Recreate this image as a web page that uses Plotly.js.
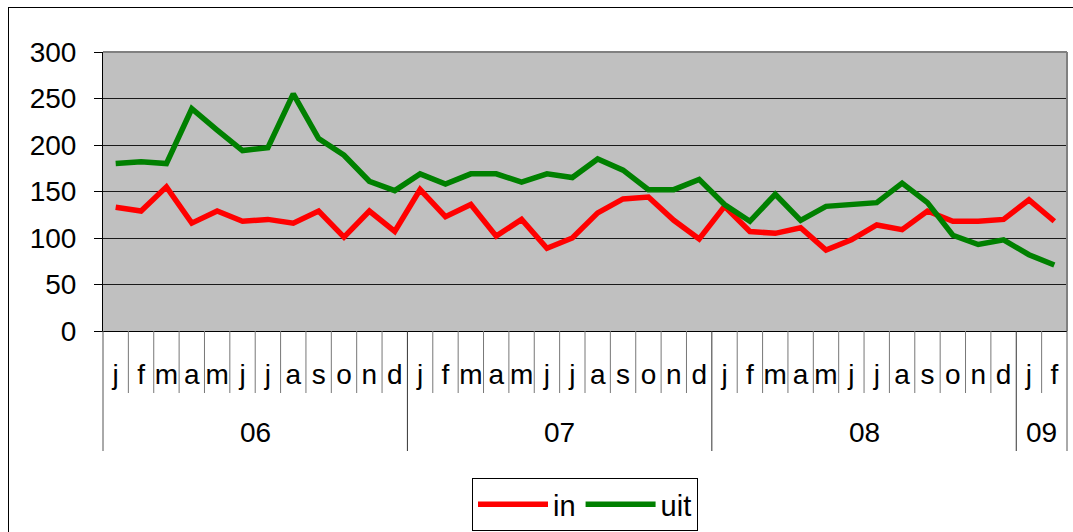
<!DOCTYPE html>
<html>
<head>
<meta charset="utf-8">
<script src="https://cdn.plot.ly/plotly-3.0.1.min.js"></script>
<style>
  html, body { margin: 0; padding: 0; background: #fff; }
  #wrap { position: relative; width: 1073px; height: 532px; overflow: hidden; }
  #chart { position: absolute; left: 0; top: 0; width: 1073px; height: 532px; }
  #frame { position: absolute; left: 8px; top: 7px; width: 1080px; height: 560px; border: 1px solid #000; pointer-events: none; }
</style>
</head>
<body>
<div id="wrap">
  <div id="chart"></div>
  <div id="frame"></div>
</div>
<script>
// Month labels (Jan 2006 .. Feb 2009)
var months = ['j','f','m','a','m','j','j','a','s','o','n','d',
              'j','f','m','a','m','j','j','a','s','o','n','d',
              'j','f','m','a','m','j','j','a','s','o','n','d',
              'j','f'];
var years = ['06','07','08','09'];
var yearCounts = [12, 12, 12, 2];

// Series values
var inVals  = [133,129,155,116,129,118,120,116,129,101,129,107,
               152,123,136,102,120,89,100,127,142,144,119,99,
               134,107,105,111,87,98,114,109,129,118,118,120,
               141,118];
var uitVals = [180,182,180,239,216,194,197,255,207,189,161,151,
               169,158,169,169,160,169,165,185,173,152,152,163,
               136,118,147,119,134,136,138,159,138,103,93,98,
               82,71];

var idx = months.map(function(_, i){ return i; });

var plotTop = 52, plotBottom = 331;
var plotH = plotBottom - plotTop;
var monthDivDepth = -62 / plotH;
var yearDivDepth = -120 / plotH;
var yearLabelY = -101 / plotH;

var labelFont = 'Liberation Sans Narrow, Arial Narrow, Liberation Sans, Arial, sans-serif';
var mainFont = 'Liberation Sans, Arial, sans-serif';

var traces = [
  {x: idx, y: inVals, name: 'in', type: 'scatter', mode: 'lines',
   line: {color: '#FF0000', width: 5.5}},
  {x: idx, y: uitVals, name: 'uit', type: 'scatter', mode: 'lines',
   line: {color: '#008000', width: 5.5}}
];

var shapes = [];
// plot area border (top, right)
shapes.push({type:'line', xref:'paper', yref:'paper', x0:0, x1:1, y0:1, y1:1, line:{color:'#808080', width:2}, layer:'above'});
shapes.push({type:'line', xref:'paper', yref:'paper', x0:1, x1:1, y0:0, y1:1, line:{color:'#808080', width:2}, layer:'above'});
// edges of category axis
shapes.push({type:'line', xref:'paper', yref:'paper', x0:0, x1:0, y0:0, y1:yearDivDepth, line:{color:'#555', width:1}});
shapes.push({type:'line', xref:'paper', yref:'paper', x0:1, x1:1, y0:0, y1:yearDivDepth, line:{color:'#555', width:1}});
// month and year boundaries
var yearStarts = [];
var acc = 0;
yearCounts.forEach(function(c){ yearStarts.push(acc); acc += c; });
for (var i = 1; i < months.length; i++) {
  var isYear = yearStarts.indexOf(i) >= 0;
  shapes.push({type:'line', xref:'x', yref:'paper', x0:i-0.5, x1:i-0.5, y0:0,
               y1: isYear ? yearDivDepth : monthDivDepth,
               line:{color: isYear ? '#333' : '#777', width:1}});
}

var annotations = years.map(function(y, k){
  return {xref:'x', yref:'paper', x: yearStarts[k] + (yearCounts[k]-1)/2, y: yearLabelY,
          text: y, showarrow:false, xanchor:'center', yanchor:'middle',
          font:{family: labelFont, size: 28, color:'#000'}};
});

var layout = {
  width: 1073, height: 532,
  margin: {l:103, r:6, t:52, b:201, pad:0, autoexpand:false},
  paper_bgcolor: '#FFFFFF',
  plot_bgcolor: '#C0C0C0',
  font: {family: mainFont, color: '#000'},
  showlegend: true,
  legend: {orientation:'h', x:0.5, xanchor:'center', y:-147/plotH, yanchor:'top',
           bgcolor:'#FFFFFF', bordercolor:'#000', borderwidth:1,
           font:{family: mainFont, size:29, color:'#000'}, itemwidth:70, tracegroupgap:0},
  xaxis: {
    range: [-0.5, months.length - 0.5],
    tickmode: 'array', tickvals: idx, ticktext: months,
    tickangle: 0, ticks: '', showgrid: false, zeroline: false,
    showline: true, linecolor: '#000', linewidth: 1,
    tickfont: {family: labelFont, size: 28, color:'#000'},
    ticklabelstandoff: 18, fixedrange: true, automargin: false
  },
  yaxis: {
    range: [0, 300], tickmode: 'linear', tick0: 0, dtick: 50,
    ticks: 'outside', ticklen: 8, tickcolor: '#000', tickwidth: 1,
    showline: true, linecolor: '#000', linewidth: 1,
    showgrid: true, gridcolor: '#1a1a1a', gridwidth: 1, zeroline: false,
    tickfont: {family: mainFont, size: 28, color:'#000'},
    ticklabelstandoff: 12, fixedrange: true, automargin: false
  },
  shapes: shapes,
  annotations: annotations
};

Plotly.newPlot('chart', traces, layout, {displayModeBar: false, staticPlot: true});
</script>
</body>
</html>
